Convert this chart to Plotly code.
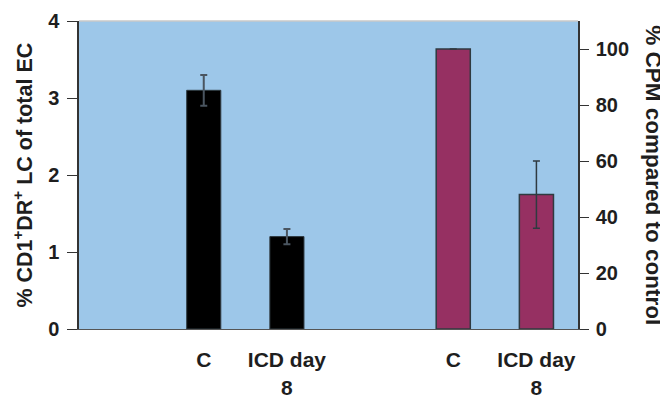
import plotly.graph_objects as go

# Data
slots = ["", "C", "ICD day<br>8", "", "C", "ICD day<br>8"]
lc_categories = ["C", "ICD day 8"]
lc_values = [3.1, 1.2]
lc_errors = [0.2, 0.1]
cpm_categories = ["C", "ICD day 8"]
cpm_values = [100, 48]
cpm_errors = [0, 12]

lc_x = [1, 2]
cpm_x = [4, 5]

FONT = "Liberation Sans, Arial, sans-serif"
EDGE = "#2f3a40"
TXT = "#1e1e1e"

fig = go.Figure()
fig.add_trace(go.Bar(
    x=lc_x, y=lc_values, width=0.41,
    marker=dict(color="#000000", line=dict(color=EDGE, width=1)),
    error_y=dict(type="data", array=lc_errors, visible=True, color="#4a5560",
                 thickness=2, width=3.5),
    yaxis="y", showlegend=False, hoverinfo="skip",
))
fig.add_trace(go.Bar(
    x=cpm_x, y=cpm_values, width=0.41,
    marker=dict(color="#963062", line=dict(color=EDGE, width=1.5)),
    error_y=dict(type="data", array=cpm_errors, visible=True, color="#2f3a40",
                 thickness=1.5, width=3.5),
    yaxis="y2", showlegend=False, hoverinfo="skip",
))

tickfont = dict(family=FONT, size=20, color=TXT, weight="bold")

# page body has an 8px default margin, so the figure is sized to fit the window
fig.update_layout(
    width=660, height=389,
    margin=dict(l=71, r=90, t=13, b=68, autoexpand=False),
    paper_bgcolor="white",
    plot_bgcolor="#9dc7e9",
    barmode="overlay",
    font=dict(family=FONT, size=20, color=TXT),
    xaxis=dict(
        range=[-0.5, 5.5], tickmode="array",
        tickvals=list(range(len(slots))), ticktext=slots,
        ticks="outside", ticklen=12, tickcolor="rgba(0,0,0,0)",
        showgrid=False, zeroline=False, automargin=False,
        showline=True, linecolor="#555555", linewidth=1,
        tickfont=dict(family=FONT, size=21, color=TXT, weight="bold"),
    ),
    yaxis=dict(
        range=[0, 4], tickmode="linear", tick0=0, dtick=1,
        ticks="outside", ticklen=10, tickcolor="#333333", tickwidth=1,
        ticklabelstandoff=4, automargin=False,
        showgrid=False, zeroline=False,
        showline=True, linecolor="#333333", linewidth=1.5,
        tickfont=tickfont,
    ),
    yaxis2=dict(
        range=[0, 110], tickmode="linear", tick0=0, dtick=20,
        overlaying="y", side="right",
        ticks="outside", ticklen=9, tickcolor="#333333", tickwidth=1,
        ticklabelstandoff=3, automargin=False,
        showgrid=False, zeroline=False,
        showline=True, linecolor="#333333", linewidth=1.5,
        tickfont=tickfont,
    ),
    annotations=[
        dict(text="% CD1<sup>+</sup>DR<sup>+</sup> LC of total EC",
             xref="paper", yref="paper", x=-0.113, y=0.5,
             xanchor="center", yanchor="middle", textangle=-90, showarrow=False,
             font=dict(family=FONT, size=21.5, color=TXT, weight="bold")),
        dict(text="% CPM compared to control",
             xref="paper", yref="paper", x=1.152, y=0.5,
             xanchor="center", yanchor="middle", textangle=90, showarrow=False,
             font=dict(family=FONT, size=22.5, color=TXT, weight="bold")),
    ],
    shapes=[
        dict(type="line", xref="paper", yref="paper", x0=0, x1=1, y0=1, y1=1,
             line=dict(color="#c8c8c8", width=1.5)),
    ],
)

fig.write_html("out.html")
